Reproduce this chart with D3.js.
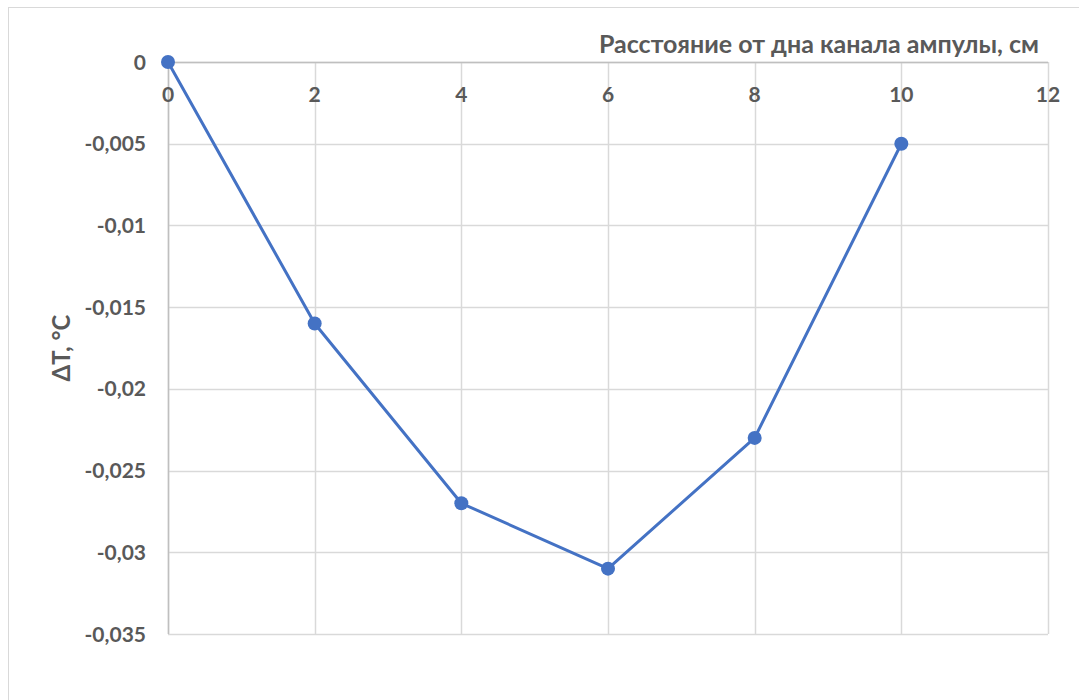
<!DOCTYPE html>
<html><head><meta charset="utf-8">
<script src="https://cdn.jsdelivr.net/npm/d3@7"></script>
<style>body{margin:0;background:#fff}svg{display:block}text{font-family:Lato,"Open Sans",sans-serif;font-weight:bold;fill:#595959}</style>
</head><body><svg id="c" width="1079" height="700"></svg>
<script>
const xValues = [0, 2, 4, 6, 8, 10];
const yValues = [0, -0.016, -0.027, -0.031, -0.023, -0.005];
const xTicks = [0, 2, 4, 6, 8, 10, 12];
const yTicks = [0, -0.005, -0.01, -0.015, -0.02, -0.025, -0.03, -0.035];
const xTitle = "Расстояние от дна канала ампулы, см";
const yTitle = "ΔT, °C";

const svg = d3.select("#c");
svg.append("rect").attr("x",8.5).attr("y",7.5).attr("width",1080).attr("height",720)
  .attr("fill","#fff").attr("stroke","#d9d9d9");

const x = d3.scaleLinear().domain([0,12]).range([168,1048]);
const y = d3.scaleLinear().domain([-0.035,0]).range([634,62]);
const fmt = v => (v===0?"0":d3.format(".3~f")(v).replace(".",",").replace("−","-"));

// grid
svg.append("g").selectAll("line").data(yTicks).join("line")
  .attr("x1",x(0)).attr("x2",x(12)).attr("y1",d=>Math.round(y(d))+0.5).attr("y2",d=>Math.round(y(d))+0.5)
  .attr("stroke","#d9d9d9").attr("stroke-width",1.5);
svg.append("g").selectAll("line").data(xTicks).join("line")
  .attr("y1",y(0)).attr("y2",y(-0.035)).attr("x1",d=>Math.round(x(d))+0.5).attr("x2",d=>Math.round(x(d))+0.5)
  .attr("stroke","#d9d9d9").attr("stroke-width",1.5);
// axes lines
svg.append("line").attr("x1",x(0)).attr("x2",x(12)).attr("y1",Math.round(y(0))+0.5).attr("y2",Math.round(y(0))+0.5).attr("stroke","#bfbfbf").attr("stroke-width",1.5);
svg.append("line").attr("x1",Math.round(x(0))+0.5).attr("x2",Math.round(x(0))+0.5).attr("y1",y(0)).attr("y2",y(-0.035)).attr("stroke","#bfbfbf").attr("stroke-width",1.5);

// tick labels
svg.append("g").selectAll("text").data(xTicks).join("text")
  .attr("x",d=>x(d)).attr("y",y(0)+40).attr("text-anchor","middle").attr("font-size",21).text(d=>d);
svg.append("g").selectAll("text").data(yTicks).join("text")
  .attr("x",146).attr("y",d=>y(d)+7.5).attr("text-anchor","end").attr("font-size",21).text(fmt);

// titles
svg.append("text").attr("x",1039).attr("y",53).attr("text-anchor","end").attr("font-size",25).text(xTitle);
svg.append("text").attr("transform","translate(70,348) rotate(-90)").attr("text-anchor","middle").attr("font-size",24).text(yTitle);

// line
const data = xValues.map((v,i)=>[v,yValues[i]]);
svg.append("path").datum(data).attr("fill","none").attr("stroke","#4472C4").attr("stroke-width",3)
  .attr("stroke-linejoin","round").attr("d",d3.line().x(d=>x(d[0])).y(d=>y(d[1])));
svg.append("g").selectAll("circle").data(data).join("circle")
  .attr("cx",d=>x(d[0])).attr("cy",d=>y(d[1])).attr("r",7).attr("fill","#4472C4");
</script></body></html>
